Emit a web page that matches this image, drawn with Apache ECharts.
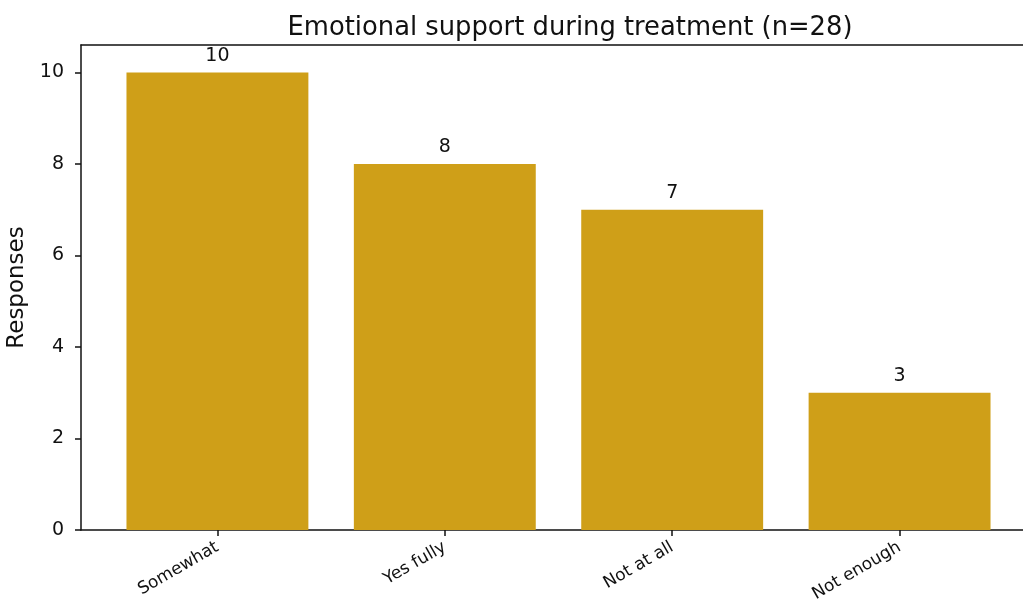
<!DOCTYPE html>
<html>
<head>
<meta charset="utf-8">
<script src="https://cdn.jsdelivr.net/npm/echarts@6/dist/echarts.min.js"></script>
<style>
  html, body { margin: 0; padding: 0; background: #ffffff; }
  #chart { width: 1023px; height: 601px; }
</style>
</head>
<body>
<div id="chart"></div>
<script>
// Survey answers and their counts
const categories = ['Somewhat', 'Yes fully', 'Not at all', 'Not enough'];
const responses = [10, 8, 7, 3];
const yTicks = [0, 2, 4, 6, 8, 10];

const FONT = 'DejaVu Sans';
const BAR_COLOR = '#CF9F18';
const INK = '#111111';

// Bars sit at integer positions 0..n-1 on a value axis padded by 0.6 on each side
const xPositions = categories.map((_, i) => i);
const barData = responses.map((v, i) => [xPositions[i], v]);

const chart = echarts.init(document.getElementById('chart'), null, { renderer: 'canvas' });

const spine = { show: true, onZero: false, lineStyle: { color: INK, width: 1.5 } };

chart.setOption({
  animation: false,
  backgroundColor: '#ffffff',
  title: {
    text: 'Emotional support during treatment (n=28)',
    left: 565,
    top: 10,
    textAlign: 'center',
    textStyle: { fontFamily: FONT, fontSize: 25.8, fontWeight: 'normal', color: INK }
  },
  grid: {
    left: 81, top: 45, width: 955, bottom: 71,
    containLabel: false,
    outerBoundsMode: 'none'
  },
  xAxis: [
    {
      type: 'value',
      min: -0.6,
      max: categories.length - 0.4,
      position: 'bottom',
      splitLine: { show: false },
      axisLine: spine,
      axisTick: { show: true, customValues: xPositions, length: 6, lineStyle: { color: INK, width: 1.5 } },
      axisLabel: {
        customValues: xPositions,
        formatter: (v) => categories[Math.round(v)] || '',
        rotate: 30,
        margin: 16,
        fontFamily: FONT,
        fontSize: 17,
        color: INK
      }
    },
    {
      type: 'value',
      min: -0.6,
      max: categories.length - 0.4,
      position: 'top',
      splitLine: { show: false },
      axisLine: spine,
      axisTick: { show: false },
      axisLabel: { show: false }
    }
  ],
  yAxis: [
    {
      type: 'value',
      min: 0,
      max: 10.6,
      position: 'left',
      name: 'Responses',
      nameLocation: 'middle',
      nameGap: 51,
      nameTextStyle: { fontFamily: FONT, fontSize: 23, color: INK },
      splitLine: { show: false },
      axisLine: spine,
      axisTick: { show: true, customValues: yTicks, length: 6, lineStyle: { color: INK, width: 1.5 } },
      axisLabel: { customValues: yTicks, margin: 17, fontFamily: FONT, fontSize: 19, color: INK }
    },
    {
      type: 'value',
      min: 0,
      max: 10.6,
      position: 'right',
      splitLine: { show: false },
      axisLine: spine,
      axisTick: { show: false },
      axisLabel: { show: false }
    }
  ],
  series: [
    {
      type: 'bar',
      xAxisIndex: 0,
      yAxisIndex: 0,
      data: barData,
      barWidth: '80%',
      itemStyle: { color: BAR_COLOR },
      label: {
        show: true,
        position: 'top',
        distance: 7,
        formatter: (p) => String(p.value[1]),
        fontFamily: FONT,
        fontSize: 19,
        color: INK
      }
    }
  ]
});
</script>
</body>
</html>
